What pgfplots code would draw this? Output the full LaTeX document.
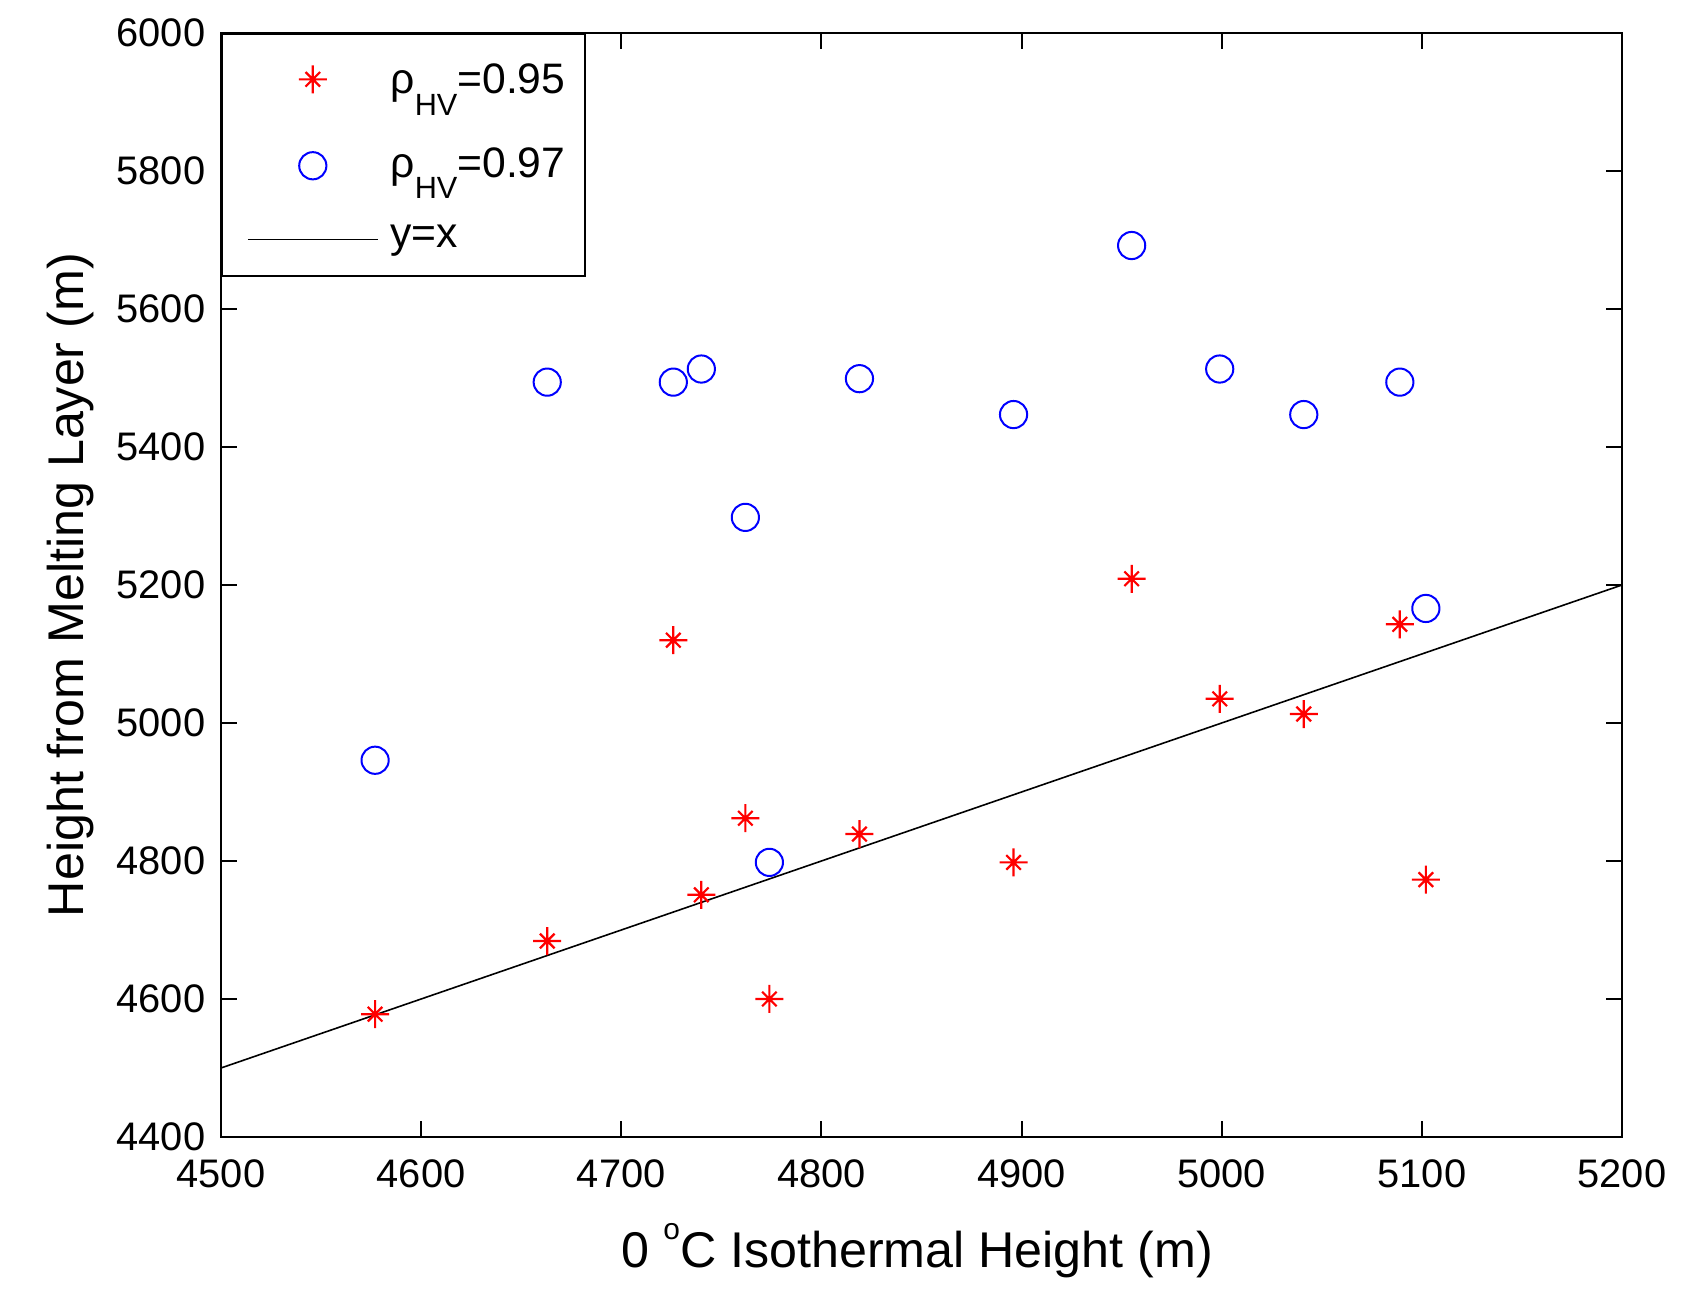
\documentclass[border=0pt]{standalone}
\usepackage{fontspec}
\setmainfont{Liberation Sans}
\usepackage{pgfplots}
\pgfplotsset{compat=1.18}

% MATLAB-style asterisk: plus with shorter diagonals
\pgfdeclareplotmark{mstar}{%
  \pgfpathmoveto{\pgfqpoint{-\pgfplotmarksize}{0pt}}%
  \pgfpathlineto{\pgfqpoint{\pgfplotmarksize}{0pt}}%
  \pgfpathmoveto{\pgfqpoint{0pt}{-\pgfplotmarksize}}%
  \pgfpathlineto{\pgfqpoint{0pt}{\pgfplotmarksize}}%
  \pgfpathmoveto{\pgfqpoint{-0.52\pgfplotmarksize}{-0.52\pgfplotmarksize}}%
  \pgfpathlineto{\pgfqpoint{0.52\pgfplotmarksize}{0.52\pgfplotmarksize}}%
  \pgfpathmoveto{\pgfqpoint{-0.52\pgfplotmarksize}{0.52\pgfplotmarksize}}%
  \pgfpathlineto{\pgfqpoint{0.52\pgfplotmarksize}{-0.52\pgfplotmarksize}}%
  \pgfusepathqstroke}

\pgfplotsset{
  lineleg/.style={legend image code/.code={%
    \draw[##1] (0bp,1.6bp) -- (32.5bp,1.6bp);}},
  starleg/.style={legend image code/.code={%
    \path[draw=none, fill=none] (16.25bp,-5.6bp) rectangle (16.25bp,5.6bp);
    \draw[##1] plot coordinates {(16.25bp,-1.1bp)};}},
}

\newcommand{\rhohv}{ρ\raisebox{-5.3bp}{\fontsize{7.7}{8}\selectfont HV}}

\begin{document}
\begin{tikzpicture}
\begin{axis}[
  name=ax,
  scale only axis,
  width=350.25bp, height=276bp,
  xmin=4500, xmax=5200, ymin=4400, ymax=6000,
  xtick distance=100, ytick distance=200,
  minor tick num=0,
  tick align=inside,
  major tick length=4bp,
  axis line style={line width=0.5bp},
  every tick/.style={black, line width=0.5bp},
  /pgf/number format/assume math mode=true,
  /pgf/number format/1000 sep={},
  tick label style={font=\fontsize{10}{12}\selectfont},
  xticklabel style={anchor=north, inner sep=0pt, yshift=-5.5bp},
  yticklabel style={anchor=east, inner sep=0pt, xshift=-3.75bp},
  xlabel={0 \raisebox{7bp}{\fontsize{7.5}{8}\selectfont o}C Isothermal Height (m)},
  ylabel={Height from Melting Layer (m)},
  label style={font=\fontsize{12.6}{14}\selectfont},
  xlabel style={at={(axis description cs:0.497,-0.1178)}, anchor=base, inner sep=0pt},
  ylabel style={at={(axis description cs:-0.0985,0.5)}, anchor=base, inner sep=0pt},
  legend style={at={(0,1)}, anchor=north west, draw=black, line width=0.5bp,
    inner xsep=6.25bp, inner ysep=2bp, column sep=1bp, row sep=8bp,
    font=\fontsize{10.7}{12}\selectfont, cells={anchor=west}},
  legend image code/.code={%
    \draw[mark repeat=2, mark phase=2, #1]
      plot coordinates {(0bp,0bp) (16.25bp,0bp) (32.5bp,0bp)};},
]
\addplot[only marks, mark=mstar, color=red, mark size=3.5bp, line width=0.55bp, starleg]
  coordinates {
  (4577,4578) (4663,4684) (4726,5120) (4740,4751) (4762,4862)
  (4774,4600) (4819,4839) (4896,4798) (4955,5209) (4999,5035)
  (5041,5013) (5089,5143) (5102,4773)};
\addlegendentry{\rule{0pt}{11bp}\rhohv=0.95\kern-3.25bp}
\addplot[only marks, mark=o, color=blue, mark size=3.4bp, line width=0.5bp]
  coordinates {
  (4577,4946) (4663,5494) (4726,5494) (4740,5513) (4762,5298)
  (4774,4798) (4819,5499) (4896,5447) (4955,5692) (4999,5513)
  (5041,5447) (5089,5494) (5102,5166)};
\addlegendentry{\rhohv=0.97\kern-3.25bp}
\addplot[black, line width=0.4bp, mark=none, lineleg]
  coordinates {(4500,4500) (5200,5200)};
\addlegendentry{\raisebox{1.6bp}[\height][-2.8bp]{y=x}}
\end{axis}
\pgfresetboundingbox
\path[use as bounding box] ([shift={(-55.25bp,-39.5bp)}]ax.south west)
  rectangle ([shift={(367.25bp,284.25bp)}]ax.south west);
\end{tikzpicture}
\end{document}
